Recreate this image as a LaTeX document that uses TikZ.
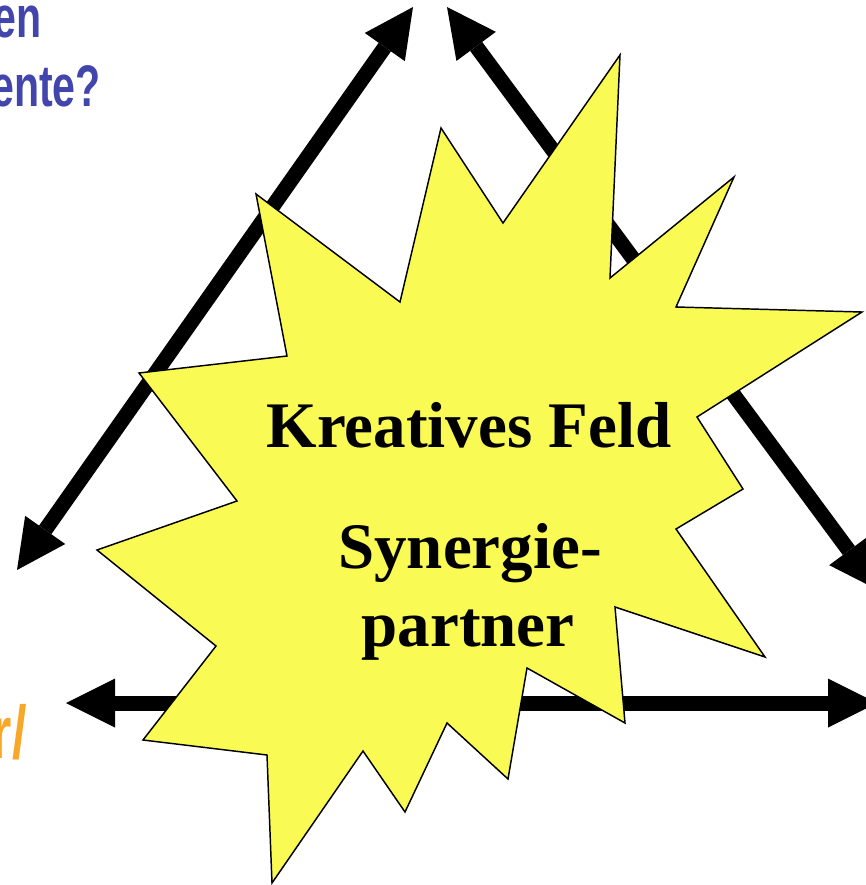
\documentclass[tikz,border=0pt]{standalone}
\usepackage{fontspec}
\setmainfont{Liberation Serif}
\newfontfamily\condfont[FakeStretch=0.70]{Liberation Sans}
\usetikzlibrary{arrows.meta}

\definecolor{sternGelb}{RGB}{250,250,85}
\definecolor{frageBlau}{RGB}{66,70,172}
\definecolor{notizOrange}{RGB}{247,168,40}

\tikzset{
  pfeil/.style={line width=11.25pt,
    >={Triangle[length=36.75pt,width=36.75pt,line width=0pt]}, <->},
  stern/.style={draw=black, fill=sternGelb, line width=1.1pt, line join=miter},
  feldtext/.style={anchor=base, inner sep=0pt,
    font=\bfseries\fontsize{48.75}{58}\selectfont},
  frage/.style={anchor=base east, inner sep=0pt, text=frageBlau,
    font=\condfont\bfseries\fontsize{44}{50}\selectfont},
  notiz/.style={anchor=base east, inner sep=0pt, text=notizOrange,
    font=\condfont\bfseries\fontsize{56}{64}\selectfont},
}

\begin{document}
\begin{tikzpicture}[x=0.75pt, y=-0.75pt]
  % Rahmen
  \useasboundingbox (0,0) rectangle (866,885);
  \clip (0,0) rectangle (866,885);

  % Eckpunkte des Dreiecks
  \coordinate (linksOben)  at (413,7);
  \coordinate (linksUnten) at (17,570);
  \coordinate (rechtsOben) at (447,7);
  \coordinate (rechtsUnten) at (878,590);
  \coordinate (untenL) at (66,703);
  \coordinate (untenR) at (877,703);

  % Doppelpfeile
  \foreach \a/\b in {linksUnten/linksOben, rechtsOben/rechtsUnten, untenL/untenR} {
    \draw[pfeil] (\a) -- (\b);
  }

  % Randtexte (angeschnitten)
  \node[frage] (frageA) at (42,37)  {en};
  \node[frage] (frageB) at (101,106) {ente?};
  \node[notiz] (notizA) at (27,758) {r/};

  % Stern
  \draw[stern] (620,55) -- (503,223) -- (441,128) -- (400,302) -- (256,194)
    -- (287,356) -- (139,373) -- (237,501) -- (97,550) -- (216,646)
    -- (143,740) -- (267,755) -- (272,883) -- (363,751) -- (405,812)
    -- (447,723) -- (508,779) -- (527,668) -- (625,723) -- (615,607)
    -- (765,657) -- (676,529) -- (743,489) -- (697,417) -- (862,312)
    -- (676,307) -- (734,177) -- (610,278) -- cycle;

  % Text im Stern
  \node[feldtext] (kreativ)  at (469,447) {Kreatives Feld};
  \node[feldtext] (synergie) at (470,568) {Synergie-};
  \node[feldtext] (partner)  at (468,646) {partner};
\end{tikzpicture}
\end{document}
